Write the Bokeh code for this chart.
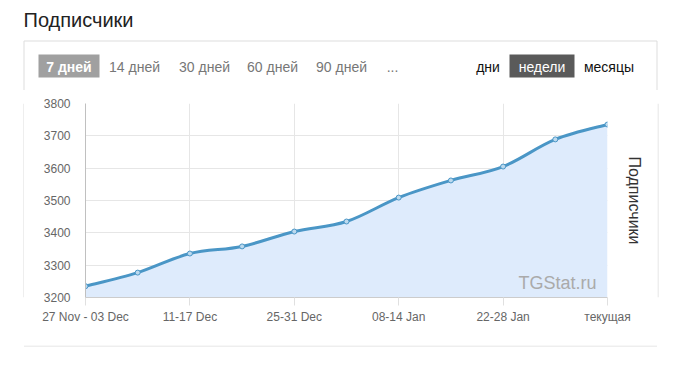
from bokeh.plotting import figure
from bokeh.layouts import column, row
from bokeh.models import FixedTicker, Label, LinearAxis, Range1d
from bokeh.core.properties import value
from bokeh.embed import file_html
from bokeh.resources import INLINE

# ---- data ----
week_labels = ["27 Nov - 03 Dec", "04-10 Dec", "11-17 Dec", "18-24 Dec", "25-31 Dec",
               "01-07 Jan", "08-14 Jan", "15-21 Jan", "22-28 Jan", "29 Jan - 04 Feb", "текущая"]
subscribers = [3235, 3277, 3336, 3358, 3404, 3435, 3509, 3562, 3605, 3689, 3735]
y_ticks = [3200, 3300, 3400, 3500, 3600, 3700, 3800]
period_buttons = ["7 дней", "14 дней", "30 дней", "60 дней", "90 дней", "..."]
group_buttons = ["дни", "недели", "месяцы"]
title_text = "Подписчики"
watermark = "TGStat.ru"

FONT = "Liberation Sans"
BORDER = "#dddddd"


def deco_fig(w, h):
    f = figure(width=w, height=h, output_backend="svg", toolbar_location=None,
               x_range=Range1d(0, w), y_range=Range1d(h, 0),
               x_axis_type=None, y_axis_type=None, min_border=0,
               outline_line_color=None, background_fill_color="white", border_fill_color="white")
    f.grid.visible = False
    return f


# ---------- header (page y 0..90) ----------
hdr = deco_fig(683, 90)
hdr.text(x=[23], y=[19], text=[title_text], text_font=value(FONT), text_font_size="20px",
         text_color="#222222", text_baseline="alphabetic")
hdr.segment(x0=[23.5, 23.5, 656.5], y0=[40.5, 40.5, 40.5], x1=[656.5, 23.5, 656.5], y1=[40.5, 90, 90],
            line_color=BORDER, line_width=1)
hdr.quad(left=[38, 509], right=[99, 574], top=[54, 54], bottom=[77, 77],
         fill_color=["#a0a0a0", "#5a5a5a"], line_color=None)
TY = 66
period_x = [68.5, 134, 204, 272, 341, 392]
hdr.text(x=period_x[:1], y=[TY], text=period_buttons[:1], text_font=value(FONT), text_font_size="14px",
         text_font_style="bold", text_color="white", text_align="center", text_baseline="alphabetic")
hdr.text(x=period_x[1:], y=[TY] * 5, text=period_buttons[1:], text_font=value(FONT), text_font_size="14px",
         text_color="#777777", text_align="center", text_baseline="alphabetic")
group_x = [487.5, 541.5, 608.5]
hdr.text(x=group_x, y=[TY] * 3, text=group_buttons, text_font=value(FONT), text_font_size="14px",
         text_color=["#111111", "white", "#111111"], text_align="center", text_baseline="alphabetic")

# ---------- side strips (page y 90..345) ----------
left_strip = deco_fig(24, 255)
left_strip.segment(x0=[23.5], y0=[0], x1=[23.5], y1=[255], line_color=BORDER, line_width=1)
right_strip = deco_fig(26, 255)
right_strip.segment(x0=[0.5], y0=[0], x1=[0.5], y1=[255], line_color=BORDER, line_width=1)

# ---------- main chart (page x 24..657, y 90..345) ----------
x_idx = list(range(len(subscribers)))
p = figure(width=633, height=255, output_backend="svg", toolbar_location=None,
           x_range=(0, len(subscribers) - 1), y_range=(y_ticks[0], y_ticks[-1]),
           min_border_left=61, min_border_right=50, min_border_top=13, min_border_bottom=48,
           outline_line_color=None, background_fill_color="white", border_fill_color="white")

p.varea(x=x_idx, y1=[y_ticks[0]] * len(x_idx), y2=subscribers, fill_color="#deebfc", fill_alpha=1.0)

n = len(subscribers)
x0s, y0s, x1s, y1s, cx0, cy0, cx1, cy1 = [], [], [], [], [], [], [], []
for i in range(n - 1):
    xa, ya = x_idx[i], subscribers[i]
    xb, yb = x_idx[i + 1], subscribers[i + 1]
    xp, yp = (x_idx[i - 1], subscribers[i - 1]) if i > 0 else (xa, ya)
    xn, yn = (x_idx[i + 2], subscribers[i + 2]) if i + 2 < n else (xb, yb)
    x0s.append(xa); y0s.append(ya); x1s.append(xb); y1s.append(yb)
    cx0.append(xa + (xb - xp) / 6); cy0.append(ya + (yb - yp) / 6)
    cx1.append(xb - (xn - xa) / 6); cy1.append(yb - (yn - ya) / 6)
p.bezier(x0=x0s, y0=y0s, x1=x1s, y1=y1s, cx0=cx0, cy0=cy0, cx1=cx1, cy1=cy1,
         line_color="#4a96c6", line_width=3)
p.scatter(x=x_idx, y=subscribers, size=5, fill_color="#bcd9ee", line_color="#4a96c6", line_width=1)

p.xaxis.ticker = FixedTicker(ticks=x_idx[::2])
p.xaxis.major_label_overrides = {i: week_labels[i] for i in x_idx}
p.yaxis.ticker = FixedTicker(ticks=y_ticks)
for ax in (p.xaxis[0], p.yaxis[0]):
    ax.major_label_text_font = FONT
    ax.major_label_text_font_size = "12px"
    ax.major_label_text_color = "#666666"
    ax.minor_tick_line_color = None
p.xaxis.axis_line_color = "#cccccc"
p.xaxis.major_tick_line_color = "#e0e0e0"
p.xaxis.major_tick_out = 8
p.xaxis.major_tick_in = 0
p.xaxis.major_label_standoff = 4
p.yaxis.axis_line_color = "#c0c0c0"
p.yaxis.major_tick_line_color = None
p.yaxis.major_label_standoff = 9

p.xgrid.ticker = FixedTicker(ticks=x_idx[::2])
p.xgrid.grid_line_color = "#e6e6e6"
p.ygrid.grid_line_color = "#e6e6e6"

right_axis = LinearAxis(ticker=FixedTicker(ticks=[]), axis_label=title_text,
                        axis_line_color=None, major_tick_line_color=None, minor_tick_line_color=None,
                        axis_label_text_font=FONT, axis_label_text_font_size="16px",
                        axis_label_text_font_style="normal", axis_label_text_color="#333333",
                        axis_label_standoff=18)
p.add_layout(right_axis, "right")

p.add_layout(Label(x=511, y=15, x_units="screen", y_units="screen", text=watermark,
                   text_font=FONT, text_font_size="18px", text_color="#aaaaaa",
                   text_align="right", text_baseline="alphabetic"))

# ---------- footer (page y 345..368) ----------
ftr = deco_fig(683, 23)
ftr.segment(x0=[23.5], y0=[0.5], x1=[656.5], y1=[0.5], line_color=BORDER, line_width=1)

layout = column(hdr, row(left_strip, p, right_strip), ftr)
open("out.html", "w").write(file_html(layout, INLINE))
